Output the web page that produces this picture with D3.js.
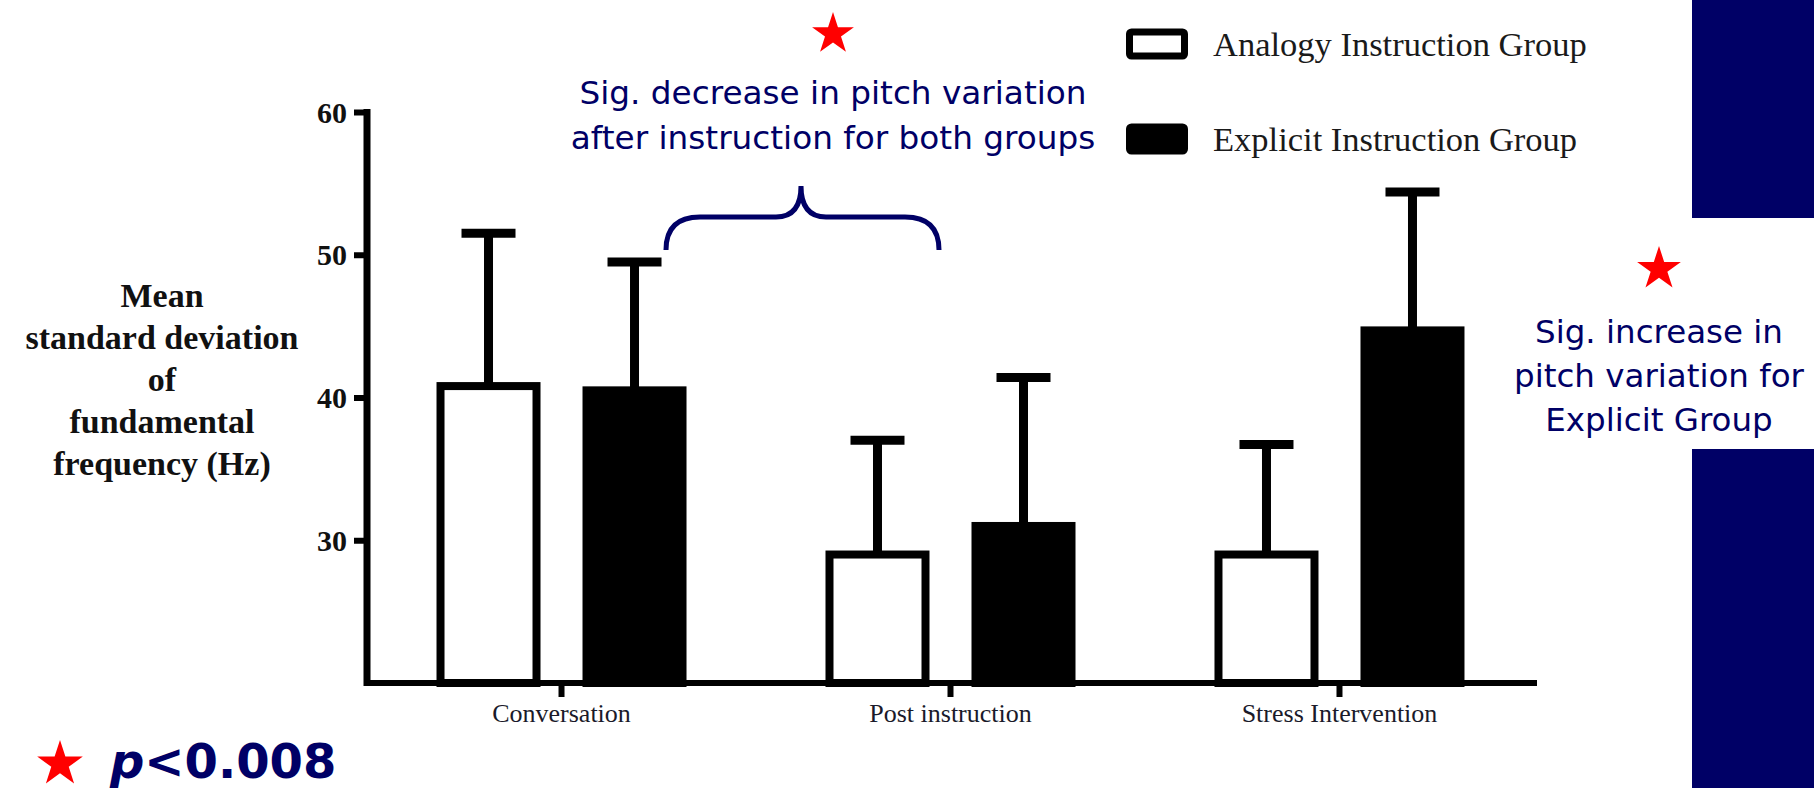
<!DOCTYPE html>
<html>
<head>
<meta charset="utf-8">
<script src="https://cdn.jsdelivr.net/npm/d3@7"></script>
<style>
html,body{margin:0;padding:0;background:#fff;}
svg{display:block;}
</style>
</head>
<body>
<svg id="chart" width="1814" height="788"></svg>
<script>
// ---- data ----
const categories = ["Conversation", "Post instruction", "Stress Intervention"];
const groups = ["Analogy Instruction Group", "Explicit Instruction Group"];
const analogyMean = [40.8, 29.0, 29.0];
const analogySD   = [10.7, 8.0, 7.7];
const explicitMean = [40.5, 31.0, 44.7];
const explicitSD   = [9.0, 10.4, 9.7];
const yTicks = [30, 40, 50, 60];
const yLabelLines = ["Mean", "standard deviation", "of", "fundamental", "frequency (Hz)"];
const noteTop = ["Sig. decrease in pitch variation", "after instruction for both groups"];
const noteRight = ["Sig. increase in", "pitch variation for", "Explicit Group"];
const pText = "<0.008";

const NAVY = "#000066";
const svg = d3.select("#chart");

// navy slide side bars
svg.append("rect").attr("x", 1692).attr("y", 0).attr("width", 122).attr("height", 218).attr("fill", NAVY);
svg.append("rect").attr("x", 1692).attr("y", 449).attr("width", 122).attr("height", 339).attr("fill", NAVY);

// scales
const x0 = d3.scaleBand().domain(categories).range([367, 1534]).paddingInner(0.3573).paddingOuter(0.1787);
const x1 = d3.scaleBand().domain(groups).range([0, x0.bandwidth()]).paddingInner(0.2877);
const y = d3.scaleLinear().domain([20, 60]).range([683, 112]);

const data = [];
categories.forEach((c, i) => {
  data.push({cat: c, grp: groups[0], mean: analogyMean[i], sd: analogySD[i]});
  data.push({cat: c, grp: groups[1], mean: explicitMean[i], sd: explicitSD[i]});
});

const SW = 8;
const g = svg.append("g");

// error bars
const errs = g.selectAll("g.err").data(data).join("g").attr("class", "err");
errs.append("line")
  .attr("x1", d => x0(d.cat) + x1(d.grp) + x1.bandwidth() / 2)
  .attr("x2", d => x0(d.cat) + x1(d.grp) + x1.bandwidth() / 2)
  .attr("y1", d => y(d.mean))
  .attr("y2", d => y(d.mean + d.sd))
  .attr("stroke", "#000").attr("stroke-width", 9);
errs.append("line")
  .attr("x1", d => x0(d.cat) + x1(d.grp) + x1.bandwidth() / 2 - 27)
  .attr("x2", d => x0(d.cat) + x1(d.grp) + x1.bandwidth() / 2 + 27)
  .attr("y1", d => y(d.mean + d.sd))
  .attr("y2", d => y(d.mean + d.sd))
  .attr("stroke", "#000").attr("stroke-width", 9);

// bars
g.selectAll("rect.bar").data(data).join("rect").attr("class", "bar")
  .attr("x", d => x0(d.cat) + x1(d.grp) + SW / 2)
  .attr("width", x1.bandwidth() - SW)
  .attr("y", d => y(d.mean))
  .attr("height", d => y(20) - y(d.mean))
  .attr("fill", d => d.grp === groups[0] ? "#fff" : "#000")
  .attr("stroke", "#000")
  .attr("stroke-width", SW);

// y axis
const yAxis = svg.append("g").attr("transform", "translate(367,0)")
  .call(d3.axisLeft(y).tickValues(yTicks).tickSize(13).tickSizeOuter(0).tickPadding(7));
yAxis.select(".domain").attr("stroke", "#000").attr("stroke-width", 7)
  .attr("d", `M0,${y(20) + 3}V${y(60) - 3}`);
yAxis.selectAll(".tick line").attr("stroke", "#000").attr("stroke-width", 6);
yAxis.selectAll(".tick text")
  .attr("font-family", "Liberation Serif").attr("font-weight", "bold")
  .attr("font-size", 30).attr("fill", "#111").attr("dy", "0.34em");

// x axis
const xAxis = svg.append("g").attr("transform", `translate(0,${y(20)})`)
  .call(d3.axisBottom(x0).tickSize(14).tickSizeOuter(0));
xAxis.select(".domain").attr("stroke", "#000").attr("stroke-width", 6)
  .attr("d", "M364,0H1537");
xAxis.selectAll(".tick line").attr("stroke", "#000").attr("stroke-width", 6);
xAxis.selectAll(".tick text")
  .attr("font-family", "Liberation Serif").attr("font-size", 26)
  .attr("fill", "#1a1a2a").attr("y", 39).attr("dy", 0);

// y axis title
const yt = svg.append("text").attr("font-family", "Liberation Serif").attr("font-weight", "bold")
  .attr("font-size", 34).attr("fill", "#111").attr("text-anchor", "middle");
yLabelLines.forEach((t, i) => {
  yt.append("tspan").attr("x", 162).attr("y", 307 + i * 42).text(t);
});

// legend
const leg = svg.append("g");
groups.forEach((gname, i) => {
  const yy = 32 + i * 95;
  leg.append("rect").attr("x", 1129.5).attr("y", yy).attr("width", 55).attr("height", 24)
    .attr("rx", 2).attr("fill", i === 0 ? "#fff" : "#000").attr("stroke", "#000").attr("stroke-width", 7);
  leg.append("text").attr("x", 1213).attr("y", 56 + i * 95)
    .attr("font-family", "Liberation Serif").attr("font-size", 34.5).attr("fill", "#1a1a1a").text(gname);
});

// star helper
function star(cx, cy, r) {
  const pts = [];
  for (let k = 0; k < 10; k++) {
    const rr = k % 2 === 0 ? r : r * 0.382;
    const a = -Math.PI / 2 + k * Math.PI / 5;
    pts.push([cx + rr * Math.cos(a), cy + rr * Math.sin(a)]);
  }
  svg.append("path").attr("d", "M" + pts.map(p => p.join(",")).join("L") + "Z").attr("fill", "#ff0000");
}

// top note
star(833, 34, 22);
const nt = svg.append("text").attr("font-family", "DejaVu Sans").attr("font-size", 32.7)
  .attr("fill", NAVY).attr("text-anchor", "middle");
noteTop.forEach((t, i) => nt.append("tspan").attr("x", 833).attr("y", 104 + i * 45).text(t));

// brace
svg.append("path")
  .attr("d", "M666,250 Q666,217 700,217 L776,217 Q801,217 801,186 Q801,217 826,217 L905,217 Q939,217 939,250")
  .attr("fill", "none").attr("stroke", NAVY).attr("stroke-width", 5);

// right note
star(1659, 269, 23);
const nr = svg.append("text").attr("font-family", "DejaVu Sans").attr("font-size", 32.5)
  .attr("fill", NAVY).attr("text-anchor", "middle");
noteRight.forEach((t, i) => nr.append("tspan").attr("x", 1659).attr("y", 343 + i * 44).text(t));

// p-value note
star(60, 764, 24);
const pt = svg.append("text").attr("x", 110).attr("y", 778)
  .attr("font-family", "DejaVu Sans").attr("font-weight", "bold").attr("font-size", 48).attr("fill", NAVY);
pt.append("tspan").attr("font-style", "italic").text("p");
pt.append("tspan").text(pText);
</script>
</body>
</html>
